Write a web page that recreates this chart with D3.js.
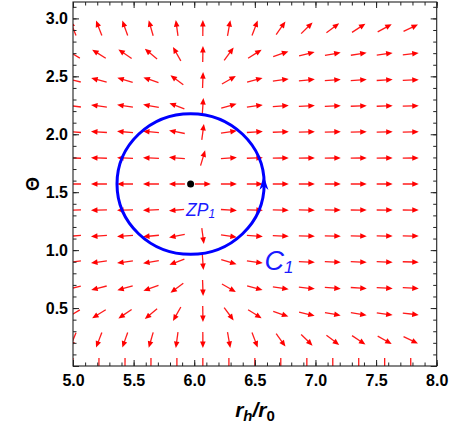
<!DOCTYPE html>
<html><head><meta charset="utf-8">
<script src="https://cdn.jsdelivr.net/npm/d3@7"></script>
<style>body{margin:0;background:#fff;} svg{display:block;}</style>
</head><body>
<svg id="chart" width="456" height="430"></svg>
<script>
// grid of sample points (r_h/r_0 and Theta)
const gridR = [5.000, 5.214, 5.429, 5.643, 5.857, 6.071, 6.286, 6.500, 6.714, 6.929, 7.143, 7.357, 7.571, 7.786];
const gridTheta = [0.000, 0.224, 0.449, 0.673, 0.898, 1.122, 1.346, 1.571, 1.795, 2.020, 2.244, 2.468, 2.693, 2.917];
// vector components (r-component per column, Theta-component per row)
const compR = [-8, -7.7, -7, -5.7, -2.7, 0.07, 3.5, 7.5, 14, 20, 26, 30, 35.5, 41.4];
const compTheta = [-10000, -19.7, -4.78, -2.01, -1.02, -0.535, -0.234, 0, 0.234, 0.535, 1.02, 2.01, 4.78, 19.7];
// zero point and contour
const zeroPoint = {r: 5.97, theta: 1.5708, label: "ZP", sub: "1"};
const contour = {r: 5.97, theta: 1.5708, radius: 0.607, label: "C", sub: "1"};
// ticks
const xMajor = [5.0, 5.5, 6.0, 6.5, 7.0, 7.5, 8.0];
const yMajor = [0.0, 0.5, 1.0, 1.5, 2.0, 2.5, 3.0];
const xMinor = d3.range(50, 81).map(v => v / 10);
const yMinor = d3.range(0, 32).map(v => v / 10);

const svg = d3.select("#chart");
const x = d3.scaleLinear().domain([5, 8]).range([73, 436.7]);
const y = d3.scaleLinear().domain([0, Math.PI]).range([366, 2]);
const FONT = "'Liberation Sans', Arial, sans-serif";

svg.append("defs").append("clipPath").attr("id", "clip")
  .append("rect").attr("x", x(5)).attr("y", y(Math.PI))
  .attr("width", x(8) - x(5)).attr("height", y(0) - y(Math.PI));

// vector field
const field = svg.append("g").attr("clip-path", "url(#clip)");
const L = 16, headL = 6.5, headW = 2.8;
const cells = [];
gridTheta.forEach((t, j) => gridR.forEach((r, i) => cells.push({r, t, a: compR[i], b: compTheta[j]})));
cells.forEach(c => {
  const ang = Math.atan2(c.b, c.a);
  const dx = Math.cos(ang), dy = -Math.sin(ang);
  const cx = x(c.r), cy = y(c.t);
  const tx = cx - dx * L / 2, ty = cy - dy * L / 2;
  const hx = cx + dx * L / 2, hy = cy + dy * L / 2;
  const bx = hx - dx * headL, by = hy - dy * headL;
  field.append("line").attr("x1", tx).attr("y1", ty).attr("x2", bx + dx).attr("y2", by + dy)
    .attr("stroke", "#ff1a1a").attr("stroke-width", 1.3);
  field.append("path")
    .attr("d", `M${hx},${hy}L${bx - dy * headW},${by + dx * headW}L${bx + dy * headW},${by - dx * headW}Z`)
    .attr("fill", "#ff0000");
});

// axes (ticks inward on all four sides)
function styleAxis(g) {
  g.select(".domain").remove();
  g.selectAll(".tick line").attr("stroke", "#222").attr("stroke-width", 1);
  g.selectAll("text").attr("font-family", FONT).attr("font-weight", "bold")
    .attr("font-size", 16).attr("fill", "#000");
}
svg.append("g").attr("transform", `translate(0,${y(0)})`)
  .call(d3.axisBottom(x).tickValues(xMinor).tickSize(-3.5).tickFormat("")).call(styleAxis);
svg.append("g").attr("transform", `translate(0,${y(0)})`)
  .call(d3.axisBottom(x).tickValues(xMajor).tickSize(-6).tickPadding(9).tickFormat(d3.format(".1f"))).call(styleAxis);
svg.append("g").attr("transform", `translate(0,${y(Math.PI)})`)
  .call(d3.axisTop(x).tickValues(xMinor).tickSize(-3.5).tickFormat("")).call(styleAxis);
svg.append("g").attr("transform", `translate(0,${y(Math.PI)})`)
  .call(d3.axisTop(x).tickValues(xMajor).tickSize(-6).tickFormat("")).call(styleAxis);
svg.append("g").attr("transform", `translate(${x(5)},0)`)
  .call(d3.axisLeft(y).tickValues(yMinor).tickSize(-3.5).tickFormat("")).call(styleAxis);
svg.append("g").attr("transform", `translate(${x(5)},0)`)
  .call(d3.axisLeft(y).tickValues(yMajor).tickSize(-6).tickPadding(5)
    .tickFormat(d => d === 0 ? "" : d3.format(".1f")(d))).call(styleAxis);
svg.append("g").attr("transform", `translate(${x(8)},0)`)
  .call(d3.axisRight(y).tickValues(yMinor).tickSize(-3.5).tickFormat("")).call(styleAxis);
svg.append("g").attr("transform", `translate(${x(8)},0)`)
  .call(d3.axisRight(y).tickValues(yMajor).tickSize(-6).tickFormat("")).call(styleAxis);

svg.append("rect").attr("x", x(5)).attr("y", y(Math.PI))
  .attr("width", x(8) - x(5)).attr("height", y(0) - y(Math.PI))
  .attr("fill", "none").attr("stroke", "#222").attr("stroke-width", 1.1);

// contour C1
const ccx = x(contour.r), ccy = y(contour.theta);
const rx = x(contour.r + contour.radius) - ccx, ry = ccy - y(contour.theta + contour.radius);
svg.append("ellipse").attr("cx", ccx).attr("cy", ccy).attr("rx", rx).attr("ry", ry)
  .attr("fill", "none").attr("stroke", "#0000ff").attr("stroke-width", 3);
// arrowhead on contour (counter-clockwise, pointing up at the right side)
const tTip = 0.115, tBase = -0.085;
const tipX = ccx + rx * Math.cos(tTip), tipY = ccy - ry * Math.sin(tTip);
const baseX = ccx + rx * Math.cos(tBase), baseY = ccy - ry * Math.sin(tBase);
let ux = tipX - baseX, uy = tipY - baseY; const ul = Math.hypot(ux, uy); ux /= ul; uy /= ul;
const hw = 4.5;
svg.append("path")
  .attr("d", `M${tipX},${tipY}L${baseX - uy * hw},${baseY + ux * hw}L${tipX - ux * 10},${tipY - uy * 10}L${baseX + uy * hw},${baseY - ux * hw}Z`)
  .attr("fill", "#0000ff");

// zero point
svg.append("circle").attr("cx", x(zeroPoint.r)).attr("cy", y(zeroPoint.theta)).attr("r", 3.5).attr("fill", "#000");

// labels with white background
function label(xp, yp, main, sub, fs, sfs, sdy, bg) {
  const g = svg.append("g");
  const t = g.append("text").attr("x", xp).attr("y", yp)
    .attr("font-family", FONT).attr("font-style", "italic").attr("font-size", fs).attr("fill", "#1a1aff");
  t.append("tspan").text(main);
  t.append("tspan").attr("font-size", sfs).attr("dy", sdy).text(sub);
  const bb = t.node().getBBox();
  g.insert("rect", "text").attr("x", bb.x - bg).attr("y", bb.y + 2).attr("width", bb.width + 2 * bg)
    .attr("height", bb.height - 2).attr("fill", "#fff");
}
label(x(zeroPoint.r) - 4.5, y(zeroPoint.theta) + 32, zeroPoint.label, zeroPoint.sub, 17.5, 12, 2, 1);
label(ccx + 74, ccy + 86, contour.label, contour.sub, 27, 17, 3, 1);

// axis titles
const xt = svg.append("text").attr("x", 255).attr("y", 417).attr("text-anchor", "middle")
  .attr("font-family", FONT).attr("font-weight", "bold").attr("font-style", "italic").attr("font-size", 21);
xt.append("tspan").text("r");
xt.append("tspan").attr("font-size", 15).attr("dy", 4).text("h");
xt.append("tspan").attr("dy", -4).text("/r");
xt.append("tspan").attr("font-size", 15).attr("dy", 4).attr("font-style", "normal").text("0");

svg.append("text").attr("transform", `translate(39,${y(Math.PI / 2)}) rotate(-90)`)
  .attr("text-anchor", "middle").attr("font-family", FONT).attr("font-weight", "bold")
  .attr("font-size", 18).text("Θ");
</script>
</body></html>
